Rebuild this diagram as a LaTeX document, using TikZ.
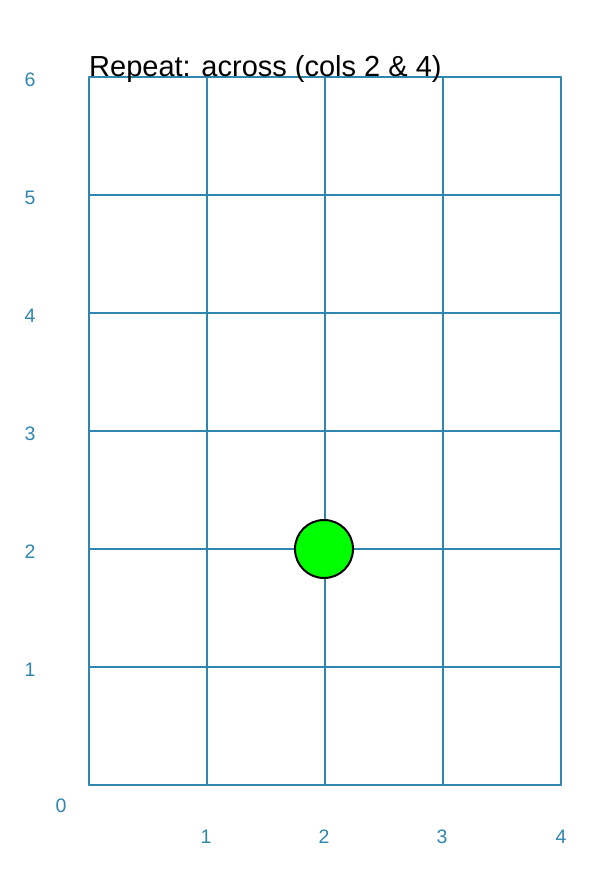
\documentclass[tikz,border=0pt]{standalone}
\usepackage{fontspec}
\setmainfont{Liberation Sans}
\definecolor{gridblue}{RGB}{48,134,174}
\definecolor{dotgreen}{RGB}{0,255,0}
\begin{document}
\begin{tikzpicture}[x=1pt,y=-1pt,
  gridline/.style={draw=gridblue,line width=1.8pt,line cap=round,line join=round},
  axislabel/.style={text=gridblue,font=\fontsize{19.5}{22}\selectfont,inner sep=0pt,anchor=center},
  titletext/.style={font=\fontsize{29}{32}\selectfont,inner sep=0pt,anchor=base west},
  dotstyle/.style={circle,draw=black,line width=2pt,fill=dotgreen,minimum size=58pt,inner sep=0pt}]
\useasboundingbox (0,0) rectangle (615,875);
\fill[white] (0,0) rectangle (615,875);
% grid
\foreach \i in {0,...,4} {
  \draw[gridline] ({89+118*\i},77) -- ({89+118*\i},785);
}
\foreach \j in {0,...,6} {
  \draw[gridline] (89,{77+118*\j}) -- (561,{77+118*\j});
}
% title
\node[titletext] (title) at (89,76) {Repeat: across (cols 2 \& 4)};
% y labels
\node[axislabel] (y6) at (30,79.5) {6};
\node[axislabel] (y5) at (30,197.5) {5};
\node[axislabel] (y4) at (30,315.5) {4};
\node[axislabel] (y3) at (30,433.5) {3};
\node[axislabel] (y2) at (30,551.5) {2};
\node[axislabel] (y1) at (30,669.5) {1};
\node[axislabel] (y0) at (61,806) {0};
% x labels
\node[axislabel] (x1) at (206,837) {1};
\node[axislabel] (x2) at (324,837) {2};
\node[axislabel] (x3) at (442,837) {3};
\node[axislabel] (x4) at (561,837) {4};
% marker
\node[dotstyle] (dot) at (324,549) {};
\end{tikzpicture}
\end{document}
